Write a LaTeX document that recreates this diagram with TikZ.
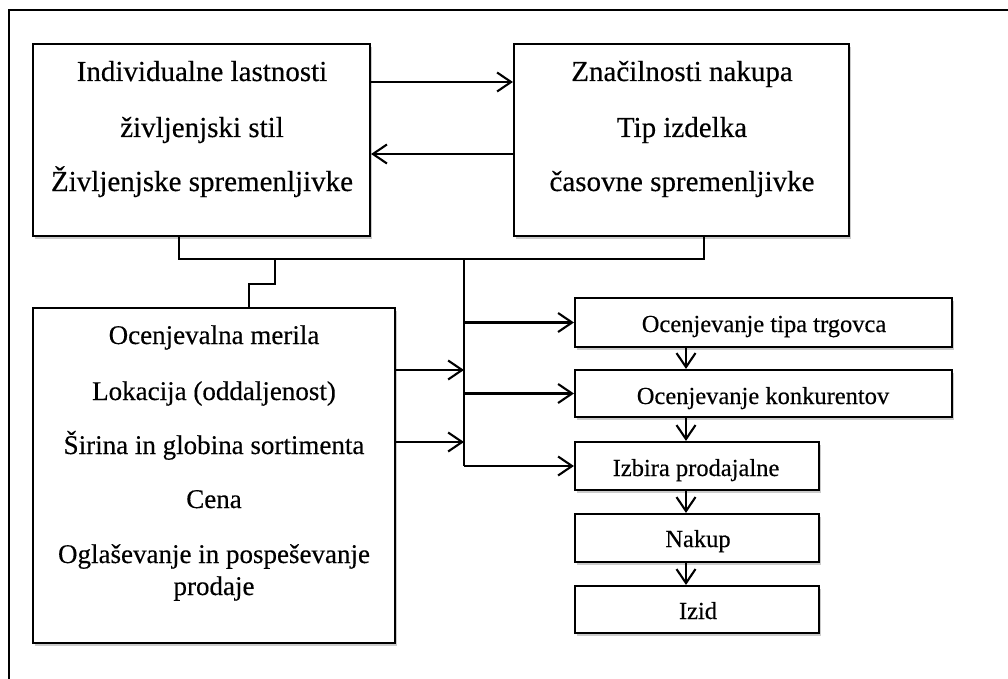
\documentclass[tikz,border=0pt]{standalone}
\usepackage{fontspec}
\setmainfont{Liberation Serif}[FakeBold=0.35]
\usetikzlibrary{arrows.meta,shadows}
\begin{document}
\begin{tikzpicture}[x=1pt,y=-1pt,
  ln/.style={line width=2.1pt,line join=miter},
  arr/.style={ln,-{Straight Barb[length=14pt,width=19pt,line width=2.1pt]}},
  box/.style={draw,line width=2.1pt,fill=white,inner sep=0pt,
     drop shadow={shadow xshift=2pt,shadow yshift=-3pt,fill=black!45,opacity=0.45}},
  big/.style={font=\fontsize{29}{33}\selectfont,anchor=base,inner sep=0pt},
  mid/.style={font=\fontsize{27}{31}\selectfont,anchor=base,inner sep=0pt},
  sml/.style={font=\fontsize{24.5}{28}\selectfont,anchor=base,inner sep=0pt}]
\useasboundingbox (0,0) rectangle (1008,679);
% frame
\coordinate (fTL) at (9,10);
\coordinate (fTR) at (1008,10);
\coordinate (fBL) at (9,679);
\draw[line width=1.8pt] (fBL) -- (fTL) -- (fTR);
% boxes
\node[box,minimum width=337pt,minimum height=192pt] (b1) at (201.5,140) {};
\node[box,minimum width=335pt,minimum height=192pt] (b2) at (681.5,140) {};
\node[box,minimum width=362pt,minimum height=335pt] (b3) at (214,475.5) {};
\node[box,minimum width=377pt,minimum height=49pt] (bA) at (763.5,322.5) {};
\node[box,minimum width=377pt,minimum height=47pt] (bB) at (763.5,393.5) {};
\node[box,minimum width=244pt,minimum height=48pt] (bC) at (697,466) {};
\node[box,minimum width=244pt,minimum height=48pt] (bD) at (697,538) {};
\node[box,minimum width=244pt,minimum height=47pt] (bE) at (697,609.5) {};
% texts
\node[big] (t11) at (202,81) {Individualne lastnosti};
\node[big] (t12) at (202,137) {življenjski stil};
\node[big] (t13) at (202,191) {Življenjske spremenljivke};
\node[big] (t21) at (682,81) {Značilnosti nakupa};
\node[big] (t22) at (682,137) {Tip izdelka};
\node[big] (t23) at (682,191) {časovne spremenljivke};
\node[mid] (t31) at (214,344) {Ocenjevalna merila};
\node[mid] (t32) at (214,400) {Lokacija (oddaljenost)};
\node[mid] (t33) at (214,454) {Širina in globina sortimenta};
\node[mid] (t34) at (214,508) {Cena};
\node[mid] (t35) at (214,563) {Oglaševanje in pospeševanje};
\node[mid] (t36) at (214,595) {prodaje};
\node[sml] (tA) at (764,332) {Ocenjevanje tipa trgovca};
\node[sml] (tB) at (763,404) {Ocenjevanje konkurentov};
\node[sml] (tC) at (696,476) {Izbira prodajalne};
\node[sml] (tD) at (698,547) {Nakup};
\node[sml] (tE) at (698,619) {Izid};
% arrows between top boxes
\draw[arr] ([yshift=58pt]b1.east) -- ([yshift=58pt]b2.west);
\draw[arr] ([yshift=-14pt]b2.west) -- ([yshift=-14pt]b1.east);
% bus
\coordinate (bus1) at (179,259);
\coordinate (bus2) at (704,259);
\coordinate (tr) at (464,259);
\coordinate (jn) at (275,259);
\coordinate (jn2) at (249,284);
\draw[ln] (b1.south -| bus1) -- (bus1) -- (bus2) -- (b2.south -| bus2);
\draw[ln] (jn) |- (jn2) -- (b3.north -| jn2);
\draw[ln] (tr) -- (tr |- bC.west);
\draw[arr] (tr |- bA.west) -- (bA.west);
\draw[arr] (tr |- bB.west) -- (bB.west);
\draw[arr] (tr |- bC.west) -- (bC.west);
\draw[arr] ([yshift=105.5pt]b3.east) -- ([yshift=105.5pt]b3.east -| tr);
\draw[arr] ([yshift=33.5pt]b3.east) -- ([yshift=33.5pt]b3.east -| tr);
% vertical chain
\coordinate (vx) at (686,0);
\draw[arr] (bA.south -| vx) -- (bB.north -| vx);
\draw[arr] (bB.south -| vx) -- (bC.north -| vx);
\draw[arr] (bC.south -| vx) -- (bD.north -| vx);
\draw[arr] (bD.south -| vx) -- (bE.north -| vx);
\end{tikzpicture}
\end{document}
